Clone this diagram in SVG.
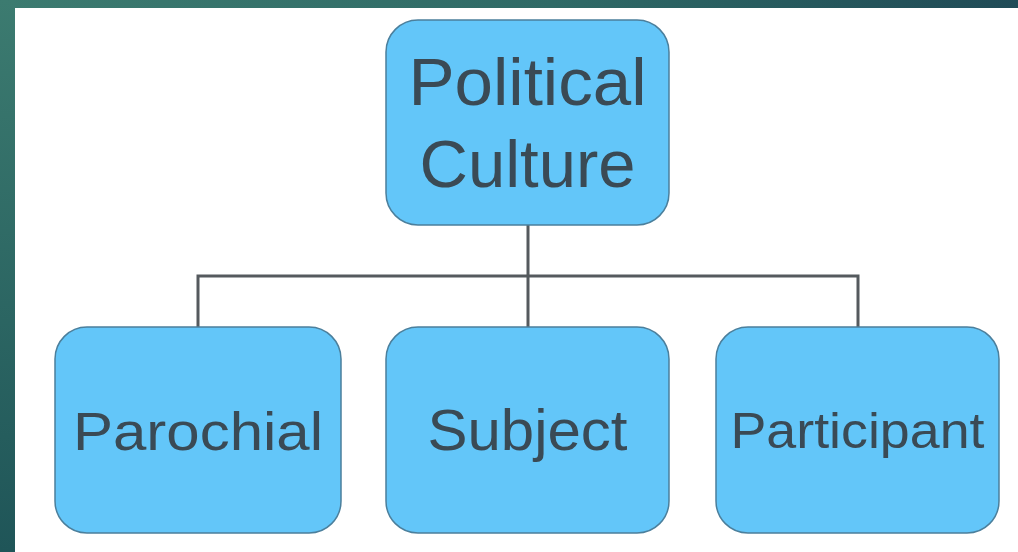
<svg xmlns="http://www.w3.org/2000/svg" width="1018" height="552" viewBox="0 0 1018 552">
<defs>
<linearGradient id="bg" x1="0" y1="0" x2="1" y2="0.3">
<stop offset="0" stop-color="#3c7b70"/>
<stop offset="0.5" stop-color="#2f6a66"/>
<stop offset="1" stop-color="#1c4453"/>
</linearGradient>
<linearGradient id="bgv" x1="0" y1="0" x2="0" y2="1">
<stop offset="0" stop-color="#3c7b70"/>
<stop offset="1" stop-color="#1f5558"/>
</linearGradient>
</defs>
<style>
.box{fill:#63c6f9;stroke:#4b7f9c;stroke-width:1.5}
.lbl{font-family:"Liberation Sans",Arial,sans-serif;fill:#3a4a55;text-anchor:middle}
.conn{fill:none;stroke:#555a5e;stroke-width:3}
</style>
<rect x="0" y="0" width="1018" height="552" fill="url(#bg)"/>
<rect x="0" y="0" width="15" height="552" fill="url(#bgv)"/>
<rect x="15" y="8" width="1003" height="544" fill="#ffffff"/>
<g id="connectors">
<path class="conn" d="M528 225 V327 M198 327 V276 H858 V327"/>
</g>
<g id="political-culture">
<rect class="box" x="386" y="20" width="283" height="205" rx="32"/>
<text class="lbl" x="527.5" y="105" font-size="67" textLength="238" lengthAdjust="spacingAndGlyphs">Political</text>
<text class="lbl" x="527.5" y="187" font-size="67">Culture</text>
</g>
<g id="parochial">
<rect class="box" x="55" y="327" width="286" height="206" rx="32"/>
<text class="lbl" x="198" y="450" font-size="54" textLength="250" lengthAdjust="spacingAndGlyphs">Parochial</text>
</g>
<g id="subject">
<rect class="box" x="386" y="327" width="283" height="206" rx="32"/>
<text class="lbl" x="527.5" y="450" font-size="58" textLength="200" lengthAdjust="spacingAndGlyphs">Subject</text>
</g>
<g id="participant">
<rect class="box" x="716" y="327" width="283" height="206" rx="32"/>
<text class="lbl" x="857.5" y="448" font-size="50" textLength="254" lengthAdjust="spacingAndGlyphs">Participant</text>
</g>
</svg>
